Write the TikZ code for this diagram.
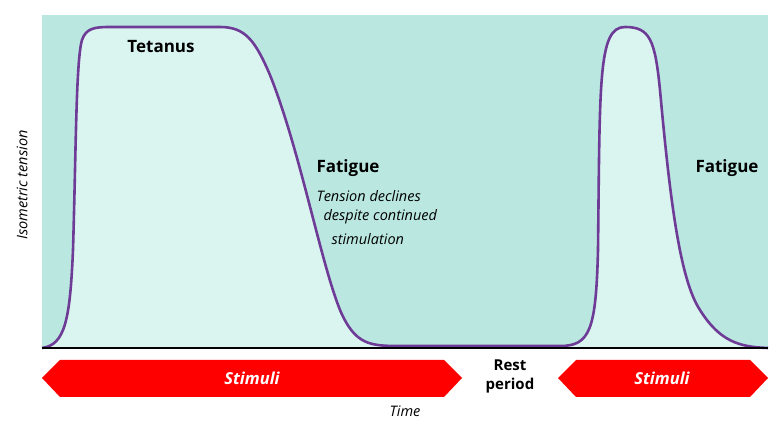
\documentclass[tikz,border=0pt]{standalone}
\usepackage{fontspec}
\setmainfont{Open Sans}
\begin{document}
\begin{tikzpicture}[x=1pt,y=-1pt,
  lbl/.style={font=\bfseries\fontsize{17}{20}\selectfont},
  itl/.style={font=\itshape\fontsize{14.5}{17}\selectfont,anchor=west},
  stim/.style={fill=red,draw=none}]
\useasboundingbox (0,0) rectangle (780,430);
\fill[fill={rgb,255:red,186;green,232;blue,225}] (42,15) rectangle (768,348);
\def\crv{(42,348) .. controls (65,345) and (70,320) .. (73,250)
 .. controls (76,150) and (76,60) .. (82,40) .. controls (86,28) and (95,27) .. (110,27) -- (220,27)
 .. controls (245,27) and (255,40) .. (270,75) .. controls (300,150) and (320,260) .. (340,310)
 .. controls (355,345) and (370,346) .. (400,346) -- (560,346) .. controls (590,346) and (596,330) .. (598,250)
 .. controls (600,80) and (598,27) .. (625,27) .. controls (650,27) and (655,40) .. (660,90)
 .. controls (670,200) and (680,280) .. (700,310) .. controls (720,342) and (740,347) .. (768,348)}
\fill[fill={rgb,255:red,218;green,244;blue,239}] \crv -- cycle;
\draw[line width=2.6pt,draw={rgb,255:red,110;green,60;blue,150},line join=round] \crv;
\draw[line width=1.8pt] (42,348) -- (768,348);
\node[lbl] (tet) at (161,47) {Tetanus};
\node[lbl] (fat1) at (348,168) {Fatigue};
\node[lbl] (fat2) at (727,168) {Fatigue};
\node[itl] (t1) at (313,196) {Tension declines};
\node[itl] (t2) at (320,217) {despite continued};
\node[itl] (t3) at (328,239) {stimulation};
\node[font=\itshape\fontsize{14.5}{17}\selectfont,rotate=90] (ya) at (22,185) {Isometric tension};
\node[font=\itshape\fontsize{14.5}{17}\selectfont] (time) at (405,411) {Time};
\node[font=\bfseries\fontsize{15}{19}\selectfont,align=center] (rest) at (510,376) {Rest\\period};
\fill[stim] (42,378) -- (60,360) -- (444,360) -- (462,378) -- (444,397) -- (60,397) -- cycle;
\fill[stim] (558,378) -- (576,360) -- (750,360) -- (768,378) -- (750,397) -- (576,397) -- cycle;
\node[font=\bfseries\itshape\fontsize{16.5}{19}\selectfont,text=white] (s1) at (252,378) {Stimuli};
\node[font=\bfseries\itshape\fontsize{16.5}{19}\selectfont,text=white] (s2) at (662,378) {Stimuli};
\end{tikzpicture}
\end{document}
